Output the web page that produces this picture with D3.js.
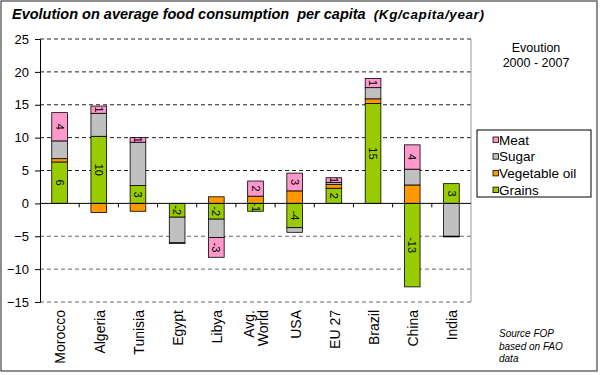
<!DOCTYPE html>
<html>
<head>
<meta charset="utf-8">
<script src="https://cdn.jsdelivr.net/npm/d3@7/dist/d3.min.js"></script>
<style>
  body { margin: 0; background: #fff; }
  svg { font-family: "Liberation Sans", Arial, sans-serif; }
</style>
</head>
<body>
<svg class="chart" width="600" height="375"></svg>
<script>
const categories = ["Morocco", "Algeria", "Tunisia", "Egypt", "Libya", "Avg. World", "USA", "EU 27", "Brazil", "China", "India"];
const seriesNames = ["Grains", "Vegetable oil", "Sugar", "Meat"];
const grains = [6.3, 10.2, 2.7, -2.1, -2.4, -1.2, -3.7, 2.3, 15.2, -12.7, 3.0];
const vegOil = [0.5, -1.4, -1.2, 0, 1.0, 1.1, 1.9, 0.6, 0.7, 2.8, 0];
const sugar = [2.7, 3.5, 6.6, -3.9, -2.8, 0, -0.7, 0.3, 1.7, 2.4, -5.0];
const meat = [4.3, 1.1, 0.7, -0.1, -3.0, 2.3, 2.7, 0.7, 1.4, 3.7, -0.1];
const yTicks = [-15, -10, -5, 0, 5, 10, 15, 20, 25];
const colors = {"Grains": "#99cc00", "Vegetable oil": "#ff9900", "Sugar": "#c0c0c0", "Meat": "#ff99cc"};
// series that get value labels
const labelled = ["Grains", "Meat"];

const rows = categories.map((c, i) => ({
  cat: c,
  "Grains": grains[i],
  "Vegetable oil": vegOil[i],
  "Sugar": sugar[i],
  "Meat": meat[i]
}));

const svg = d3.select("svg.chart");

// outer frame
svg.append("rect")
   .attr("x", 1).attr("y", 1)
   .attr("width", 596).attr("height", 370)
   .attr("fill", "#fff")
   .attr("stroke", "#444")
   .attr("stroke-width", 1.2);

const title = svg.append("text")
   .attr("x", 12).attr("y", 19)
   .style("white-space", "pre")
   .style("font-weight", "bold")
   .style("font-style", "italic")
   .style("font-size", "14.5px");
title.append("tspan").text("Evolution on average food consumption  per capita");
title.append("tspan")
     .attr("dx", 8)
     .style("font-size", "13.5px")
     .style("letter-spacing", "0.6px")
     .text("(Kg/capita/year)");

const plotL = 40, plotR = 471, plotT = 39, plotB = 302;

const x = d3.scaleBand()
            .domain(categories)
            .range([plotL, plotR])
            .paddingInner(0.6)
            .paddingOuter(0.3);

const y = d3.scaleLinear()
            .domain([-15, 25])
            .range([plotB, plotT]);

// gridlines
svg.append("g")
   .selectAll("line.grid")
   .data(yTicks.filter(d => d !== 0))
   .enter()
   .append("line")
   .classed("grid", true)
   .attr("x1", plotL).attr("x2", plotR)
   .attr("y1", d => y(d)).attr("y2", d => y(d))
   .attr("stroke", d => d > 0 ? "#222" : "#666")
   .attr("stroke-dasharray", "4,3");

// right plot border
svg.append("line")
   .attr("x1", plotR).attr("x2", plotR)
   .attr("y1", plotT).attr("y2", plotB)
   .attr("stroke", "#999");

// stacked bars
const stack = d3.stack()
                .keys(seriesNames)
                .offset(d3.stackOffsetDiverging);
const layers = stack(rows);

const barsG = svg.append("g");
layers.forEach(layer => {
  const key = layer.key;
  const segs = layer.map((d, i) => ({cat: categories[i], y0: d[0], y1: d[1], v: rows[i][key]}))
                    .filter(d => d.v !== 0);
  barsG.selectAll(null)
       .data(segs)
       .enter()
       .append("rect")
       .attr("x", d => x(d.cat))
       .attr("width", x.bandwidth())
       .attr("y", d => y(Math.max(d.y0, d.y1)))
       .attr("height", d => Math.abs(y(d.y0) - y(d.y1)))
       .attr("fill", colors[key])
       .attr("stroke", "#000")
       .attr("stroke-width", 0.8);

  if (labelled.includes(key)) {
    barsG.selectAll(null)
         .data(segs.filter(d => Math.abs(d.v) >= 0.5))
         .enter()
         .append("text")
         .attr("transform", d => `translate(${x(d.cat) + x.bandwidth() / 2},${y((d.y0 + d.y1) / 2)}) rotate(90)`)
         .attr("text-anchor", "middle")
         .attr("dy", "0.35em")
         .style("font-size", "11px")
         .text(d => Math.round(d.v));
  }
});

// y axis
const yAxis = svg.append("g")
   .attr("transform", `translate(${plotL},0)`)
   .call(d3.axisLeft(y).tickValues(yTicks).tickSize(5).tickPadding(6));
yAxis.select(".domain").attr("stroke", "#000");
yAxis.selectAll("text").style("font-size", "13px").attr("fill", "#000");

// zero line with category ticks
svg.append("line")
   .attr("x1", plotL).attr("x2", plotR)
   .attr("y1", y(0)).attr("y2", y(0))
   .attr("stroke", "#000");
const step = x.step();
svg.append("g")
   .selectAll("line")
   .data(categories.slice(1))
   .enter()
   .append("line")
   .attr("x1", d => x(d) - step * 0.3)
   .attr("x2", d => x(d) - step * 0.3)
   .attr("y1", y(0)).attr("y2", y(0) + 4)
   .attr("stroke", "#000");

// category labels
const catLabels = svg.append("g")
   .selectAll("text")
   .data(categories)
   .enter()
   .append("text")
   .attr("transform", d => `translate(${x(d) + x.bandwidth() / 2 + 1},310) rotate(-90)`)
   .attr("text-anchor", "end")
   .attr("dy", "0.35em")
   .style("font-size", "14px");
catLabels.each(function(d) {
  const parts = d === "Avg. World" ? ["Avg.", "World"] : [d];
  const t = d3.select(this);
  if (parts.length === 1) {
    t.text(d);
  } else {
    t.append("tspan").attr("x", 0).attr("dy", "-0.2em").text(parts[0]);
    t.append("tspan").attr("x", 0).attr("dy", "1em").text(parts[1]);
  }
});

// note
svg.append("text")
   .attr("x", 536).attr("y", 52)
   .attr("text-anchor", "middle")
   .style("font-size", "12.5px")
   .text("Evoution");
svg.append("text")
   .attr("x", 536).attr("y", 67)
   .attr("text-anchor", "middle")
   .style("font-size", "12.5px")
   .text("2000 - 2007");

// legend (top to bottom in reverse series order)
const legend = svg.append("g");
legend.append("rect")
   .attr("x", 477).attr("y", 130)
   .attr("width", 114).attr("height", 67)
   .attr("fill", "#fff")
   .attr("stroke", "#000");
const legItems = legend.selectAll("g.item")
   .data(seriesNames.slice().reverse())
   .enter()
   .append("g")
   .classed("item", true)
   .attr("transform", (d, i) => `translate(493,${140 + i * 16.7})`);
legItems.append("rect")
   .attr("x", 0).attr("y", -3)
   .attr("width", 5.5).attr("height", 5.5)
   .attr("fill", d => colors[d])
   .attr("stroke", "#000")
   .attr("stroke-width", 0.8);
legItems.append("text")
   .attr("x", 6).attr("dy", "0.35em")
   .style("font-size", "13.5px")
   .text(d => d);

// source note
const src = ["Source FOP", "based on FAO", "data"];
svg.append("g")
   .selectAll("text")
   .data(src)
   .enter()
   .append("text")
   .attr("x", 499)
   .attr("y", (d, i) => 337 + i * 12.5)
   .style("font-size", "10px")
   .style("font-style", "italic")
   .text(d => d);
</script>
</body>
</html>
